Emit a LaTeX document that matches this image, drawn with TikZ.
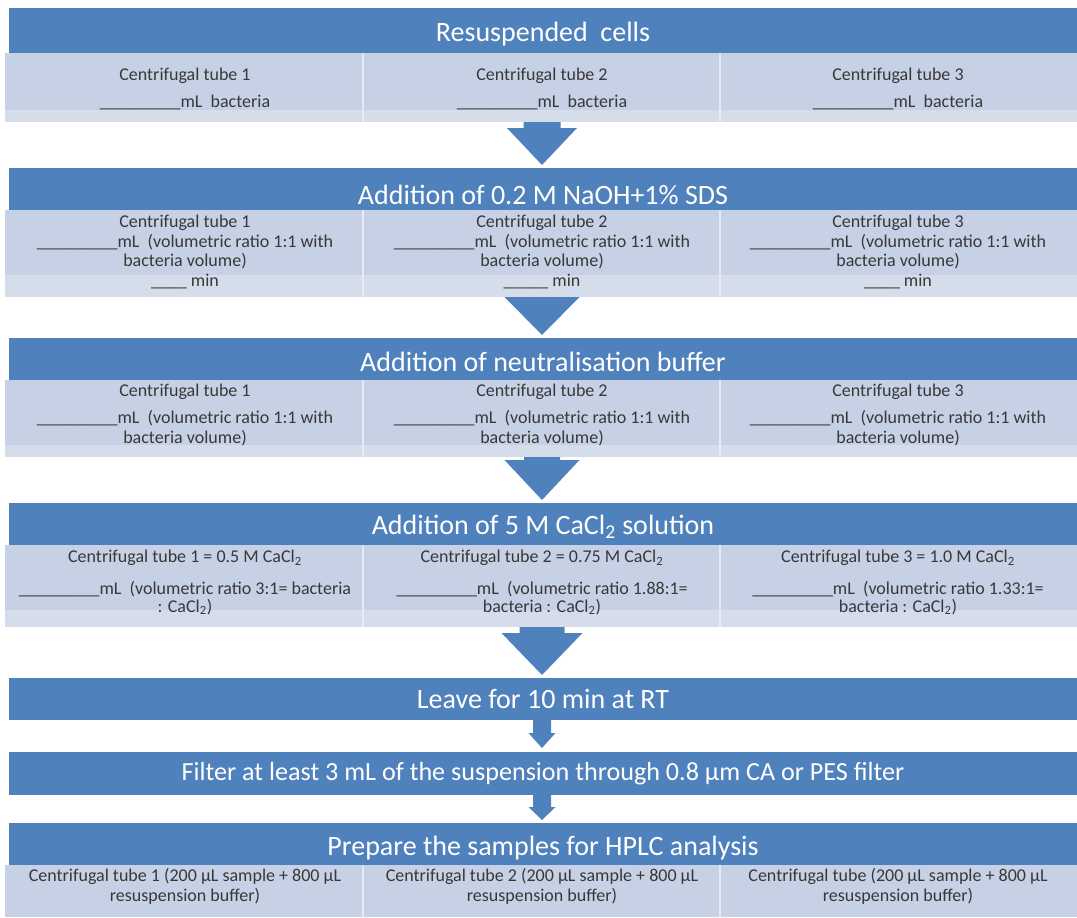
\documentclass[tikz,border=0pt]{standalone}
\usepackage{fontspec}
\setmainfont{Carlito}
\usetikzlibrary{positioning}

\definecolor{bandblue}{HTML}{4F81BD}
\definecolor{celllight}{HTML}{C7D1E5}
\definecolor{cellpale}{HTML}{D5DCEA}
\definecolor{celltext}{HTML}{383838}

\tikzset{
	header/.style = {font=\fontsize{21}{25}\selectfont, text=white, anchor=base, inner sep=0pt},
	cell/.style = {font=\fontsize{13.5}{13.5}\selectfont, text=celltext, align=center, anchor=base, inner sep=0pt},
	divider/.style = {draw=white!55!celllight, line width=1pt},
	pics/downarrow/.style n args = {4}{code = {
		\fill[bandblue] (-#1,0) -- (#1,0) -- (#1,#3) -- (#2,#3) -- (0,#4) -- (-#2,#3) -- (-#1,#3) -- cycle;
	}},
}

\newcommand{\blank}{\_\_\_\_\_\_\_\_\_}
\newcommand{\shortblank}{\_\_\_\_}
\newcommand{\cacl}{CaCl\textsubscript{2}}

\begin{document}
\begin{tikzpicture}[x=0.75pt, y=-0.75pt]
	\useasboundingbox (0,0) rectangle (1077,917);
	
	% block arrows (behind the tables)
	\pic at (542,122) {downarrow={18.5}{35}{6}{43}};
	\pic at (542,290) {downarrow={18}{37.5}{7}{45}};
	\pic at (542,455) {downarrow={18}{37.5}{5}{45}};
	\pic at (542,627) {downarrow={22.5}{40.5}{6}{48}};
	\pic at (542,718) {downarrow={9}{13.5}{15}{30}};
	\pic at (542,793) {downarrow={9}{13.5}{14}{27}};
	
	% bands with three tube cells
	\foreach \ht/\hb/\st/\sb in {8/53/110/122, 168/210/275/297, 338/380/445/457, 503/545/610/627} {
		\fill[bandblue] (9,\ht) rectangle (1077,\hb);
		\fill[celllight] (5,\hb) rectangle (1077,\st);
		\fill[cellpale] (5,\st) rectangle (1077,\sb);
		\foreach \x in {363,720}
			\draw[divider] (\x,\hb) -- (\x,\sb);
	}
	% single bands
	\foreach \ht/\hb in {678/720, 752/795, 823/865}
		\fill[bandblue] (9,\ht) rectangle (1077,\hb);
	\fill[celllight] (5,865) rectangle (1077,917);
	\foreach \x in {363,720}
		\draw[divider] (\x,865) -- (\x,917);
	
	% headers
	\node[header] (hdrResus) at (543,42) {Resuspended~ cells};
	\node[header] (hdrNaoh) at (543,204) {Addition of 0.2 M NaOH+1\% SDS};
	\node[header] (hdrNeut) at (543,371) {Addition of neutralisation buffer};
	\node[header] (hdrCacl) at (543,534) {Addition of 5 M \cacl{} solution};
	\node[header] (hdrLeave) at (543,708) {Leave for 10 min at RT};
	\node[header, font=\fontsize{19.6}{24}\selectfont] (hdrFilter) at (543,780) {Filter at least 3 mL of the suspension through 0.8 µm CA or PES filter};
	\node[header] (hdrHplc) at (543,855) {Prepare the samples for HPLC analysis};
	
	% resuspended cells (placed at the baseline of the last line)
	\node[cell] (resA) at (185,107) {Centrifugal tube 1\\[6.75pt]\blank mL~~bacteria};
	\node[cell] (resB) at (542,107) {Centrifugal tube 2\\[6.75pt]\blank mL~~bacteria};
	\node[cell] (resC) at (898,107) {Centrifugal tube 3\\[6.75pt]\blank mL~~bacteria};
	
	% NaOH + SDS
	\node[cell] (naohA) at (185,286) {Centrifugal tube 1\\[1.1pt]\blank mL~~(volumetric ratio 1:1 with\\[1.1pt]bacteria volume)\\[1.1pt]\shortblank{} min};
	\node[cell] (naohB) at (542,286) {Centrifugal tube 2\\[1.1pt]\blank mL~~(volumetric ratio 1:1 with\\[1.1pt]bacteria volume)\\[1.1pt]\shortblank\_ min};
	\node[cell] (naohC) at (898,286) {Centrifugal tube 3\\[1.1pt]\blank mL~~(volumetric ratio 1:1 with\\[1.1pt]bacteria volume)\\[1.1pt]\shortblank{} min};
	
	% neutralisation buffer
	\node[cell] (neutA) at (185,443) {Centrifugal tube 1\\[6.75pt]\blank mL~~(volumetric ratio 1:1 with\\[1.5pt]bacteria volume)};
	\node[cell] (neutB) at (542,443) {Centrifugal tube 2\\[6.75pt]\blank mL~~(volumetric ratio 1:1 with\\[1.5pt]bacteria volume)};
	\node[cell] (neutC) at (898,443) {Centrifugal tube 3\\[6.75pt]\blank mL~~(volumetric ratio 1:1 with\\[1.5pt]bacteria volume)};
	
	% CaCl2
	\node[cell] (caclA) at (185,612) {Centrifugal tube 1 = 0.5 M \cacl\\[10pt]\blank mL~~(volumetric ratio 3:1= bacteria\\: \cacl)};
	\node[cell] (caclB) at (542,612) {Centrifugal tube 2 = 0.75 M \cacl\\[10pt]\blank mL~~(volumetric ratio 1.88:1=\\bacteria : \cacl)};
	\node[cell] (caclC) at (898,612) {Centrifugal tube 3 = 1.0 M \cacl\\[10pt]\blank mL~~(volumetric ratio 1.33:1=\\bacteria : \cacl)};
	
	% HPLC samples
	\node[cell] (hplcA) at (185,901) {Centrifugal tube 1 (200 µL sample + 800 µL\\[1pt]resuspension buffer)};
	\node[cell] (hplcB) at (542,901) {Centrifugal tube 2 (200 µL sample + 800 µL\\[1pt]resuspension buffer)};
	\node[cell] (hplcC) at (898,901) {Centrifugal tube (200 µL sample + 800 µL\\[1pt]resuspension buffer)};
	
\end{tikzpicture}
\end{document}
